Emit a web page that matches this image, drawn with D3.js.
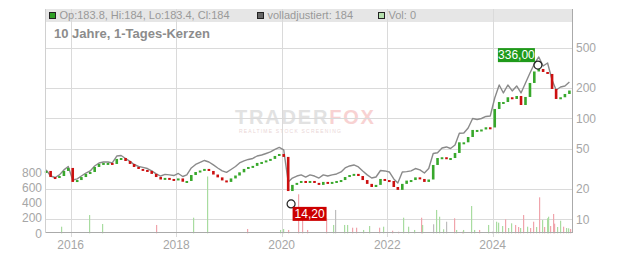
<!DOCTYPE html>
<html>
<head>
<meta charset="utf-8">
<script src="https://cdn.jsdelivr.net/npm/d3@7"></script>
<style>
  body { margin: 0; background: #fff; }
  text { font-family: "Liberation Sans", Arial, sans-serif; }
</style>
</head>
<body>
<svg id="chart" width="632" height="253"></svg>
<script>
// monthly candles, one per month from Jul 2015 (mid month)
const firstMonth = '2015-07-15'
const closes = [
  29.4, 25.6, 25.1, 26.2, 29.4, 31.5, 22.9, 23.9, 25.6, 27.5,
  28.7, 32.2, 34.5, 35.3, 35.3, 34.5, 38.7, 39.5, 36.9, 34.5,
  32.2, 30.8, 30.1, 29.4, 27.5, 25.6, 24.2, 25.1, 24.5, 23.9,
  24.8, 23.0, 23.4, 26.8, 28.7, 29.7, 30.8, 29.4, 27.1, 25.4,
  23.7, 22.9, 24.8, 26.5, 28.5, 30.8, 32.2, 33.0, 35.3, 36.1,
  37.4, 38.7, 41.4, 43.3, 40.5, 18.6, 21.4, 22.4, 23.4, 22.4,
  23.4, 22.4, 21.4, 22.9, 22.4, 22.9, 23.4, 23.9, 25.6, 26.8,
  27.5, 26.2, 23.9, 21.9, 20.4, 21.4, 24.5, 23.9, 23.4, 20.4,
  19.1, 21.9, 23.6, 23.9, 25.4, 24.5, 22.9, 24.2, 33.7, 39.5,
  40.2, 39.5, 39.5, 44.3, 56.5, 56.5, 63.8, 74.9, 74.9, 75.7,
  79.6, 79.3, 120.8, 141.7, 141.7, 157.8, 151.8, 162.5, 132.3, 158.9,
  218.6, 284.1, 300.8, 280.9, 268.4, 190.6, 151.8, 157.8, 170.1, 184.0
]
// "volladjustiert" line, same months
const adjusted = [
  30.8, 26.8, 25.9, 27.5, 30.8, 33.3, 24.5, 25.1, 26.8, 28.7,
  30.1, 33.7, 36.1, 36.9, 36.9, 36.1, 42.3, 42.8, 40.0, 37.4,
  34.9, 33.3, 32.6, 31.8, 30.1, 28.1, 26.8, 27.8, 27.5, 27.1,
  28.4, 26.5, 27.5, 32.2, 34.9, 36.5, 38.2, 36.9, 34.5, 32.2,
  30.1, 29.1, 31.1, 33.3, 36.1, 37.8, 39.1, 40.0, 42.3, 43.3,
  44.8, 46.4, 49.1, 51.4, 48.6, 23.4, 25.6, 26.8, 27.5, 26.2,
  27.5, 26.8, 25.6, 27.5, 26.8, 27.5, 28.1, 29.4, 32.2, 33.7,
  34.5, 33.0, 30.1, 27.5, 25.6, 26.2, 30.4, 30.1, 29.4, 25.1,
  22.9, 29.4, 29.6, 30.1, 31.8, 30.8, 28.7, 31.8, 44.8, 45.6,
  50.8, 52.0, 50.2, 54.4, 71.0, 71.5, 80.2, 99.5, 97.3, 99.5,
  104.2, 105.4, 158.9, 213.6, 178.1, 213.6, 186.4, 208.8, 178.1, 223.7,
  280.9, 344.8, 404.6, 329.4, 352.7, 239.4, 190.6, 204.1, 208.8, 228.8
]

const volDates = [
  '2015-10-23', '2016-05-04', '2016-08-06', '2017-08-15', '2018-04-28', '2018-07-30',
  '2019-05-07', '2019-12-19', '2020-01-11', '2020-02-15', '2020-04-24', '2020-05-22',
  '2020-06-26', '2020-11-02', '2020-12-23', '2021-01-04', '2021-03-07', '2021-03-26',
  '2021-04-29', '2021-05-29', '2021-07-19', '2021-08-29', '2021-11-06', '2021-12-04',
  '2022-02-01', '2022-03-18', '2022-04-21', '2022-05-26', '2022-07-04', '2022-08-20',
  '2022-08-27', '2022-11-15', '2022-12-01', '2022-12-26', '2023-01-23', '2023-02-11',
  '2023-04-07', '2023-04-21', '2023-05-30', '2023-06-11', '2023-08-01', '2023-08-24',
  '2023-09-27', '2023-12-01', '2023-12-24', '2024-01-23', '2024-02-08', '2024-03-02',
  '2024-03-25', '2024-04-15', '2024-05-10', '2024-06-02', '2024-06-23', '2024-07-07',
  '2024-07-30', '2024-08-22', '2024-09-14', '2024-10-03', '2024-10-26', '2024-11-17',
  '2024-12-04', '2024-12-20', '2025-01-09', '2025-01-20', '2025-02-04', '2025-02-19',
  '2025-02-28', '2025-03-21', '2025-04-11', '2025-05-03', '2025-05-22', '2025-06-07',
  '2025-06-22'
]
const volValues = [
  87, 241, 123, 110, 206, 750,
  57, 44, 57, 44, 515, 285,
  44, 198, 110, 308, 110, 110,
  74, 74, 44, 96, 74, 87,
  34, 21, 206, 87, 44, 206,
  110, 119, 308, 219, 53, 153,
  198, 44, 21, 44, 360, 44,
  44, 110, 21, 153, 140, 96,
  185, 70, 132, 110, 83, 70,
  241, 87, 70, 153, 83, 475,
  175, 83, 198, 219, 96, 255,
  127, 83, 166, 87, 70, 66,
  57
]
// g = up day, r = down day, n = unchanged
const volKinds = [
  'g', 'g', 'g', 'r', 'g', 'g',
  'r', 'g', 'g', 'r', 'r', 'r',
  'r', 'r', 'g', 'n', 'g', 'g',
  'r', 'r', 'g', 'g', 'r', 'g',
  'r', 'r', 'g', 'g', 'g', 'r',
  'g', 'n', 'g', 'g', 'g', 'n',
  'r', 'g', 'r', 'g', 'g', 'g',
  'r', 'g', 'n', 'g', 'g', 'g',
  'r', 'g', 'g', 'r', 'r', 'g',
  'r', 'g', 'r', 'r', 'g', 'r',
  'g', 'r', 'g', 'g', 'r', 'r',
  'r', 'g', 'g', 'r', 'g', 'g',
  'r'
]

const priceTicks = [10, 20, 50, 100, 200, 500]
const volTicks = [0, 200, 400, 600, 800]
const yearTicks = [2016, 2018, 2020, 2022, 2024]

const markDates = ['2024-11-09', '2020-03-06']
const markValues = [336, 14.2]
const markLabels = ['336,00', '14,20']

const legendItems = [
  { label: 'Op:183.8, Hi:184, Lo:183.4, Cl:184', fill: '#2e9e25' },
  { label: 'volladjustiert: 184', fill: '#666' },
  { label: 'Vol: 0', fill: '#b5dfad' }
]

const plotLeft = 46
const plotRight = 572
const plotTop = 9
const plotBottom = 233

const parse = d3.timeParse('%Y-%m-%d')
const svg = d3.select('#chart')

const x = d3.scaleTime()
  .domain([parse('2015-07-14'), parse('2025-07-03')])
  .range([plotLeft, plotRight])
const yPrice = d3.scaleLog().domain([7.31, 1208]).range([plotBottom, plotTop])
const yVol = d3.scaleLinear().domain([0, 800]).range([plotBottom + 0.3, 172.7])

const start = parse(firstMonth)
const months = closes.map((c, i) => d3.timeMonth.offset(start, i))

// Watermark
const wm = svg.append('g').attr('class', 'watermark')
const wmText = wm.append('text')
  .attr('x', 235).attr('y', 124)
  .style('font-size', '20px').style('font-weight', 'bold')
  .style('letter-spacing', '1.8px')
wmText.append('tspan').attr('fill', '#e2e2e2').text('TRADER')
wmText.append('tspan').attr('fill', '#f8d2d2').text('FOX')
wm.append('text')
  .attr('x', 239).attr('y', 133)
  .style('font-size', '5px').style('letter-spacing', '1.2px')
  .attr('fill', '#ead6d6')
  .text('REALTIME STOCK SCREENING')

// Legend band
svg.append('rect')
  .attr('x', plotLeft).attr('y', plotTop)
  .attr('width', plotRight - plotLeft).attr('height', 13)
  .attr('fill', '#e6e6e6')

// Grid
const grid = svg.append('g').attr('stroke', '#dadada').attr('stroke-width', 1)
grid.selectAll('line.h').data(priceTicks).join('line')
  .attr('class', 'h')
  .attr('x1', plotLeft).attr('x2', plotRight)
  .attr('y1', d => Math.round(yPrice(d)) + 0.5).attr('y2', d => Math.round(yPrice(d)) + 0.5)
grid.selectAll('line.v').data(yearTicks).join('line')
  .attr('class', 'v')
  .attr('x1', d => Math.round(x(new Date(d, 0, 1))) + 0.5)
  .attr('x2', d => Math.round(x(new Date(d, 0, 1))) + 0.5)
  .attr('y1', plotTop).attr('y2', plotBottom + 4)

// Volume bars
const volColor = { g: '#a8dca0', r: '#f0a4ac', n: '#bdbdbd' }
svg.append('g').selectAll('rect').data(volDates).join('rect')
  .attr('x', d => Math.round(x(parse(d))))
  .attr('width', 1.2)
  .attr('y', (d, i) => yVol(volValues[i]))
  .attr('height', (d, i) => yVol(0) - yVol(volValues[i]))
  .attr('fill', (d, i) => volColor[volKinds[i]])

// Adjusted line
svg.append('path')
  .datum(adjusted)
  .attr('fill', 'none')
  .attr('stroke', '#8a8a8a')
  .attr('stroke-width', 1.4)
  .attr('stroke-linejoin', 'round')
  .attr('d', d3.line().x((d, i) => x(months[i])).y(d => yPrice(d)))

// Candles: open is the previous close
const candles = closes.map((c, i) => ({
  date: months[i],
  open: i ? closes[i - 1] : c,
  close: c
}))
svg.append('g').selectAll('rect').data(candles).join('rect')
  .attr('x', d => x(d.date) - 1.3)
  .attr('width', 2.6)
  .attr('y', d => Math.min(yPrice(d.open), yPrice(d.close)) - 1)
  .attr('height', d => Math.max(2, Math.abs(yPrice(d.open) - yPrice(d.close))))
  .attr('fill', d => d.close >= d.open ? '#38a82c' : '#cc1010')

// Axis lines
svg.append('line')
  .attr('x1', plotLeft - 0.5).attr('x2', plotRight + 0.5)
  .attr('y1', plotBottom - 0.5).attr('y2', plotBottom - 0.5)
  .attr('stroke', '#aaa')
svg.append('line')
  .attr('x1', plotRight + 0.5).attr('x2', plotRight + 0.5)
  .attr('y1', plotTop).attr('y2', plotBottom)
  .attr('stroke', '#aaa')
svg.append('line')
  .attr('x1', plotLeft - 0.5).attr('x2', plotLeft - 0.5)
  .attr('y1', plotTop).attr('y2', plotBottom)
  .attr('stroke', '#d0d0d0')

// Tick labels
const tickStyle = sel => sel.attr('fill', '#a6a6a6').style('font-size', '12px')
svg.append('g').selectAll('text').data(priceTicks).join('text')
  .attr('x', plotRight + 4).attr('y', d => yPrice(d) + 4.3)
  .text(d => d).call(tickStyle)
svg.append('g').selectAll('text').data(volTicks).join('text')
  .attr('x', 42).attr('y', d => yVol(d) + 4.3)
  .attr('text-anchor', 'end')
  .text(d => d).call(tickStyle)
svg.append('g').selectAll('text').data(yearTicks).join('text')
  .attr('x', d => x(new Date(d, 0, 1))).attr('y', 249)
  .attr('text-anchor', 'middle')
  .text(d => d).call(tickStyle)

// High / low markers
const marks = markDates.map((d, i) => ({ date: parse(d), value: markValues[i], label: markLabels[i] }))
const mk = svg.append('g').selectAll('g').data(marks).join('g')
  .attr('transform', d => `translate(${x(d.date)},${yPrice(d.value)})`)
mk.append('circle').attr('r', 4).attr('fill', 'none').attr('stroke', '#222').attr('stroke-width', 1.2)
mk.append('rect')
  .attr('x', (d, i) => i === 0 ? -40 : 1.5)
  .attr('y', (d, i) => i === 0 ? -17 : 3)
  .attr('width', (d, i) => i === 0 ? 37 : 34)
  .attr('height', 14)
  .attr('fill', (d, i) => i === 0 ? '#1f9a1a' : '#cc0000')
mk.append('text')
  .attr('x', (d, i) => i === 0 ? -21.5 : 18.5)
  .attr('y', (d, i) => i === 0 ? -6 : 14)
  .attr('text-anchor', 'middle')
  .attr('fill', '#fff')
  .style('font-size', '12px')
  .text(d => d.label)

// Legend
const legendX = [49.5, 257.5, 378.5]
const lg = svg.append('g').selectAll('g').data(legendItems).join('g')
  .attr('transform', (d, i) => `translate(${legendX[i]},12.5)`)
lg.append('rect').attr('width', 6).attr('height', 6)
  .attr('fill', d => d.fill).attr('stroke', '#222').attr('stroke-width', 1)
lg.append('text').attr('x', 10).attr('y', 6.8)
  .attr('fill', '#999').style('font-size', '11px')
  .text(d => d.label)

// Title
svg.append('text')
  .attr('x', 54).attr('y', 38)
  .attr('fill', '#8c8c8c')
  .style('font-size', '13px').style('font-weight', 'bold')
  .text('10 Jahre, 1-Tages-Kerzen')
</script>
</body>
</html>
